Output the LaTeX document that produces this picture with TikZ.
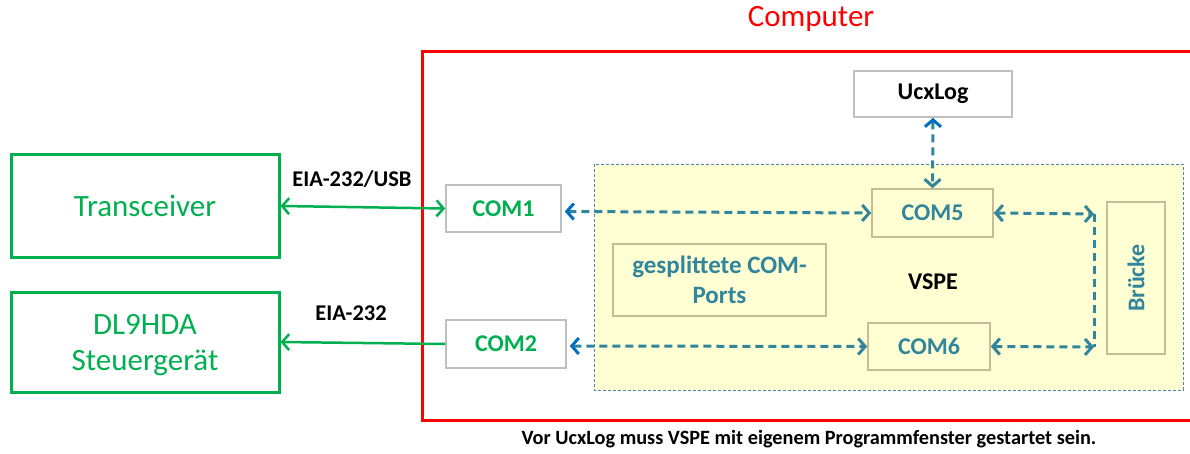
\documentclass[tikz,border=0pt]{standalone}
\usepackage{fontspec}
\setmainfont{Carlito}
\usetikzlibrary{arrows.meta,calc}
\definecolor{grn}{HTML}{00B050}
\definecolor{gry}{HTML}{BFBFBF}
\definecolor{teal0}{HTML}{31859C}
\definecolor{blue0}{HTML}{0070C0}
\definecolor{tan0}{HTML}{C4BD97}
\definecolor{yel}{HTML}{FFFFD3}
\definecolor{vbord}{HTML}{4F81BD}
\definecolor{red0}{HTML}{FF0000}
\tikzset{
  x=1pt,y=-1pt,
  barb/.tip={Straight Barb[length=7pt,width=16pt]},
  devbox/.style={draw=grn,line width=3pt,text=grn,font=\fontsize{31}{36}\selectfont,align=center,inner sep=0pt},
  portbox/.style={draw=gry,line width=1.6pt,fill=white,text=grn,font=\bfseries\fontsize{24}{28}\selectfont,inner sep=0pt},
  appbox/.style={draw=gry,line width=1.6pt,fill=white,text=black,font=\bfseries\fontsize{24}{28}\selectfont,inner sep=0pt},
  vbox/.style={draw=tan0,line width=1.6pt,fill=yel,text=teal0,font=\bfseries\fontsize{24}{30}\selectfont,align=center,inner sep=0pt},
  glink/.style={draw=grn,line width=2.5pt},
  dlink/.style={draw=teal0,line width=3pt,dash pattern=on 8pt off 5pt},
  lbl/.style={font=\bfseries\fontsize{22.5}{26}\selectfont,text=black,inner sep=0pt},
}
\begin{document}
\begin{tikzpicture}
\useasboundingbox (0,0) rectangle (1190,454);
% computer frame
\draw[red0,line width=3pt] (422,52) rectangle (1200,420);
\node[text=red0,font=\fontsize{31}{36}\selectfont,inner sep=0pt] (comp) at (811,19) {Computer};
% VSPE region
\draw[vbord,line width=0.9pt,dash pattern=on 3pt off 2pt,fill=yel] (594,164) rectangle (1183,390);
% devices
\node[devbox,minimum width=268pt,minimum height=102pt] (trx) at (145,206) {Transceiver};
\node[devbox,minimum width=268pt,minimum height=100pt] (dl9) at (145,342) {};
\node[text=grn,font=\fontsize{31}{36}\selectfont,align=center,inner sep=0pt] (dl9t) at (145,345) {DL9HDA\\Steuergerät};
% ports
\node[portbox,minimum width=115pt,minimum height=47pt] (com1) at (503.5,208.5) {COM1};
\node[portbox,minimum width=120pt,minimum height=48pt] (com2) at (506,344) {COM2};
\node[appbox,minimum width=158pt,minimum height=46pt] (ucx) at (933,94) {UcxLog};
% inside VSPE
\node[vbox,minimum width=121pt,minimum height=48pt] (com5) at (932.5,213) {COM5};
\node[vbox,minimum width=122pt,minimum height=47pt] (com6) at (929,346.5) {COM6};
\node[vbox,font=\bfseries\fontsize{25}{30}\selectfont,minimum width=213pt,minimum height=72pt] (gsp) at (719.5,280) {gesplittete COM-\\Ports};
\node[vbox,minimum width=58pt,minimum height=152pt] (br) at (1136,278) {};
\node[text=teal0,font=\bfseries\fontsize{24}{28}\selectfont,rotate=90,inner sep=0pt] (brt) at (br.center) {Brücke};
\node[font=\bfseries\fontsize{24}{28}\selectfont,inner sep=0pt] (vspe) at (933,282) {VSPE};
% labels
\node[lbl] (l1) at (352,179) {EIA-232/USB};
\node[lbl] (l2) at (351,313) {EIA-232};
\node[font=\bfseries\fontsize{20.3}{24}\selectfont,inner sep=0pt] (note) at (809,439) {Vor UcxLog muss VSPE mit eigenem Programmfenster gestartet sein.};
% green links
\draw[glink,{barb}-{barb}] (trx.east) -- (com1.west);
\draw[glink,-{barb}] (com2.west) -- (dl9.east);
% dashed links
\coordinate (c5) at (1094,214);
\coordinate (c6) at (1094,347);
\draw[dlink,{barb[color=blue0]}-{barb}] ($(com1.east)+(3,3)$) -- (com5.west);
\draw[dlink,{barb[color=blue0]}-{barb}] ($(com2.east)+(3,2)$) -- (com6.west);
\draw[dlink,{barb[color=blue0]}-{barb}] (ucx.south) -- (com5.north);
\draw[dlink,{barb}-{barb}] (com5.east) -- (c5);
\draw[dlink,{barb}-{barb}] (com6.east) -- (c6);
\draw[dlink] (c5) -- (c6);
\end{tikzpicture}
\end{document}
